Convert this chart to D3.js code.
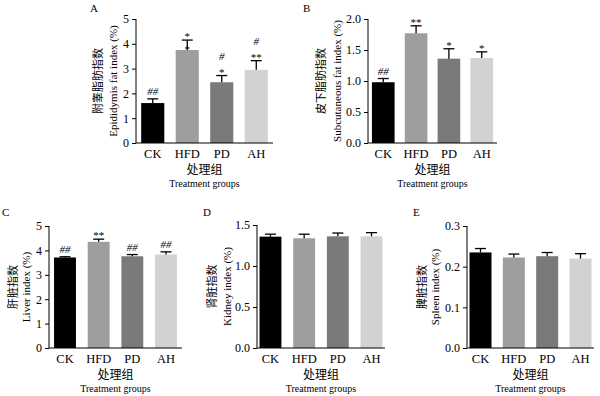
<!DOCTYPE html>
<html>
<head>
<meta charset="utf-8">
<script src="https://cdn.jsdelivr.net/npm/d3@7"></script>
<style>
  body { margin: 0; background: #fff; }
  svg { display: block; }
  text { font-family: "Liberation Serif", "Noto Sans CJK SC", serif; fill: #000; }
</style>
</head>
<body>
<svg id="chart" width="600" height="396"></svg>
<script>
'use strict';

// groups shared by every panel
var groups = ["CK", "HFD", "PD", "AH"];
var groupColors = ["#000000", "#9e9e9e", "#7a7a7a", "#d2d2d2"];

// A: epididymis fat index
var epiMean = [1.61, 3.75, 2.45, 2.95];
var epiErr = [0.17, 0.40, 0.27, 0.37];
var epiMarks = [["##"], ["*", "*"], ["#", "*"], ["#", "**"]];
var epiTicks = [0, 1, 2, 3, 4, 5];

// B: subcutaneous fat index
var subMean = [0.98, 1.77, 1.36, 1.37];
var subErr = [0.06, 0.12, 0.16, 0.10];
var subMarks = [["##"], ["**"], ["*"], ["*"]];
var subTicks = [0, 0.5, 1.0, 1.5, 2.0];

// C: liver index
var liverMean = [3.71, 4.35, 3.76, 3.83];
var liverErr = [0.03, 0.11, 0.07, 0.11];
var liverMarks = [["##"], ["**"], ["##"], ["##"]];
var liverTicks = [0, 1, 2, 3, 4, 5];

// D: kidney index
var kidneyMean = [1.358, 1.338, 1.362, 1.362];
var kidneyErr = [0.030, 0.050, 0.040, 0.045];
var kidneyTicks = [0, 0.5, 1.0, 1.5];

// E: spleen index
var spleenMean = [0.235, 0.2226, 0.2258, 0.220];
var spleenErr = [0.0096, 0.0084, 0.0090, 0.0120];
var spleenTicks = [0, 0.1, 0.2, 0.3];

var xTitleCn = "处理组";
var xTitleEn = "Treatment groups";

var panels = [
    {letter: "A", lx: 90, ly: 12, x0: 136, x1: 273, yTop: 19, yBot: 143, pi: 0.33, po: 0.15,
     mean: epiMean, err: epiErr, marks: epiMarks, ticks: epiTicks, fmt: "d",
     cn: "附睾脂肪指数", en: "Epididymis fat index (%)", cnOff: 38, enOff: 23, barMark: [1]},
    {letter: "B", lx: 303, ly: 12, x0: 368, x1: 497, yTop: 19, yBot: 143, pi: 0.31, po: 0.12,
     mean: subMean, err: subErr, marks: subMarks, ticks: subTicks, fmt: ".1f",
     cn: "皮下脂肪指数", en: "Subcutaneous fat index (%)", cnOff: 47, enOff: 31},
    {letter: "C", lx: 2, ly: 216, x0: 49, x1: 182, yTop: 226, yBot: 348, pi: 0.35, po: 0.15,
     mean: liverMean, err: liverErr, marks: liverMarks, ticks: liverTicks, fmt: "d",
     cn: "肝脏指数", en: "Liver index (%)", cnOff: 36, enOff: 23},
    {letter: "D", lx: 203, ly: 216, x0: 257, x1: 385, yTop: 225, yBot: 348, pi: 0.35, po: 0.075,
     mean: kidneyMean, err: kidneyErr, marks: null, ticks: kidneyTicks, fmt: ".1f",
     cn: "肾脏指数", en: "Kidney index (%)", cnOff: 45, enOff: 30},
    {letter: "E", lx: 413, ly: 216, x0: 467, x1: 594, yTop: 226, yBot: 348, pi: 0.34, po: 0.075,
     mean: spleenMean, err: spleenErr, marks: null, ticks: spleenTicks, fmt: ".1f",
     cn: "脾脏指数", en: "Spleen index (%)", cnOff: 45, enOff: 32}
];

var svg = d3.select("#chart");

function drawPanel(p) {
    var g = svg.append("g");
    var yMax = p.ticks[p.ticks.length - 1];

    var x = d3.scaleBand()
        .domain(groups)
        .range([p.x0, p.x1])
        .paddingInner(p.pi)
        .paddingOuter(p.po);

    var y = d3.scaleLinear()
        .domain([0, yMax])
        .range([p.yBot, p.yTop]);

    // bars
    g.selectAll("rect.bar")
        .data(groups)
        .enter()
        .append("rect")
        .attr("class", "bar")
        .attr("x", function(d) { return x(d); })
        .attr("width", x.bandwidth())
        .attr("y", function(d, i) { return y(p.mean[i]); })
        .attr("height", function(d, i) { return p.yBot - y(p.mean[i]); })
        .attr("fill", function(d, i) { return groupColors[i]; });

    // error bars
    var eb = g.selectAll("g.err")
        .data(groups)
        .enter()
        .append("g")
        .attr("class", "err")
        .attr("stroke", "#000")
        .attr("stroke-width", 1.3);

    eb.append("line")
        .attr("x1", function(d) { return x(d) + x.bandwidth() / 2; })
        .attr("x2", function(d) { return x(d) + x.bandwidth() / 2; })
        .attr("y1", function(d, i) { return y(p.mean[i]); })
        .attr("y2", function(d, i) { return y(p.mean[i] + p.err[i]); });

    eb.append("line")
        .attr("x1", function(d) { return x(d) + x.bandwidth() / 2 - 5.5; })
        .attr("x2", function(d) { return x(d) + x.bandwidth() / 2 + 5.5; })
        .attr("y1", function(d, i) { return y(p.mean[i] + p.err[i]); })
        .attr("y2", function(d, i) { return y(p.mean[i] + p.err[i]); });

    // significance marks
    if (p.marks) {
        groups.forEach(function(d, i) {
            var cx = x(d) + x.bandwidth() / 2;
            var top = y(p.mean[i] + p.err[i]);
            var list = p.marks[i].slice();
            var onBar = p.barMark && p.barMark.indexOf(i) >= 0;
            if (onBar) {
                // last mark sits right on the bar top
                g.append("text")
                    .attr("x", cx).attr("y", y(p.mean[i]) + 3)
                    .attr("text-anchor", "middle")
                    .attr("font-size", 11)
                    .text(list.pop());
            }
            list.reverse().forEach(function(m, k) {
                var isStar = m.indexOf("*") >= 0;
                g.append("text")
                    .attr("x", cx)
                    .attr("y", top - (isStar ? 0 : 3.5) - k * 12)
                    .attr("text-anchor", "middle")
                    .attr("font-size", 11)
                    .attr("font-style", isStar ? "normal" : "italic")
                    .text(m);
            });
        });
    }

    // axes
    var yAxis = d3.axisLeft(y)
        .tickValues(p.ticks)
        .tickSize(4)
        .tickPadding(3)
        .tickFormat(d3.format(p.fmt));

    var ya = g.append("g")
        .attr("transform", "translate(" + p.x0 + ",0)")
        .call(yAxis);
    ya.select(".domain").attr("d", "M0," + p.yTop + "V" + p.yBot);
    ya.selectAll("text").attr("font-size", 12).attr("font-family", "Liberation Serif");
    ya.selectAll("line, path").attr("stroke", "#000");

    var xAxis = d3.axisBottom(x).tickSize(0).tickPadding(6);
    var xa = g.append("g")
        .attr("transform", "translate(0," + p.yBot + ")")
        .call(xAxis);
    xa.select(".domain").attr("d", "M" + p.x0 + ",0H" + p.x1).attr("stroke", "#000");
    xa.selectAll("text").attr("font-size", 12.5).attr("font-family", "Liberation Serif");

    // axis titles
    var cxAxis = (p.x0 + p.x1) / 2;
    g.append("text")
        .attr("x", cxAxis).attr("y", p.yBot + 31)
        .attr("text-anchor", "middle")
        .attr("font-size", 12)
        .text(xTitleCn);
    g.append("text")
        .attr("x", cxAxis).attr("y", p.yBot + 44)
        .attr("text-anchor", "middle")
        .attr("font-size", 10)
        .text(xTitleEn);

    var cy = (p.yTop + p.yBot) / 2;
    g.append("text")
        .attr("transform", "translate(" + (p.x0 - p.cnOff + 4) + "," + cy + ") rotate(-90)")
        .attr("text-anchor", "middle")
        .attr("font-size", 11)
        .text(p.cn);
    g.append("text")
        .attr("transform", "translate(" + (p.x0 - p.enOff + 4) + "," + cy + ") rotate(-90)")
        .attr("text-anchor", "middle")
        .attr("font-size", 11)
        .text(p.en);

    // panel letter
    g.append("text")
        .attr("x", p.lx).attr("y", p.ly)
        .attr("font-size", 11)
        .text(p.letter);
}

panels.forEach(drawPanel);
</script>
</body>
</html>
